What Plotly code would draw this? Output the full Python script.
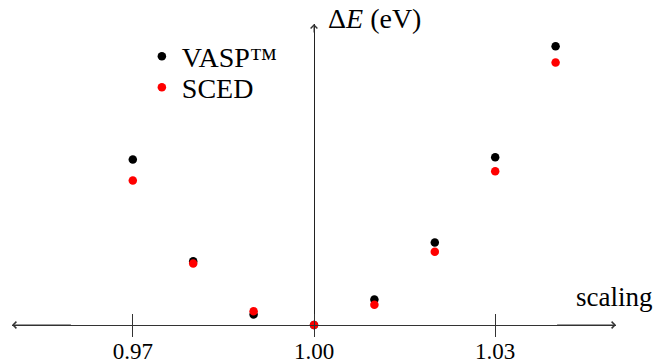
import plotly.graph_objects as go

scaling = [0.97, 0.98, 0.99, 1.00, 1.01, 1.02, 1.03, 1.04]
vasp = [1.655, 0.638, 0.105, 0.0, 0.255, 0.825, 1.678, 2.788]
sced = [1.445, 0.615, 0.138, 0.0, 0.202, 0.732, 1.538, 2.625]
tick_vals = [0.97, 1.00, 1.03]
tick_text = ["0.97", "1.00", "1.03"]

X_MIN, X_MAX = 0.95, 1.05
Y_MAX = 3.01
FONT = "Liberation Serif"

fig = go.Figure()
fig.add_trace(go.Scatter(x=scaling, y=vasp, mode="markers", name="VASP™", legend="legend",
                         marker=dict(color="black", size=8.5), cliponaxis=False))
fig.add_trace(go.Scatter(x=scaling, y=sced, mode="markers", name="SCED", legend="legend2",
                         marker=dict(color="red", size=8.5), cliponaxis=False))
# invisible trace for second x axis (outside ticks)
fig.add_trace(go.Scatter(x=[X_MIN], y=[0], xaxis="x2", mode="markers",
                         marker=dict(opacity=0), showlegend=False, hoverinfo="skip"))

leg = dict(xanchor="left", yanchor="top", bgcolor="rgba(0,0,0,0)",
           font=dict(size=28, family=FONT), itemsizing="trace")

# page body has an 8px default margin; figure size compensates for it
fig.update_layout(
    width=653, height=353,
    margin=dict(l=4, r=45, t=16, b=36, autoexpand=False),
    plot_bgcolor="white", paper_bgcolor="white",
    font=dict(family=FONT, color="black", size=23),
    showlegend=True,
    legend=dict(x=0.215, y=0.975, **leg),
    legend2=dict(x=0.215, y=0.872, **leg),
    xaxis=dict(range=[X_MIN, X_MAX], showgrid=False, zeroline=False, automargin=False,
               showline=True, linecolor="#333", linewidth=1,
               ticks="inside", ticklen=11, tickwidth=1, tickcolor="#333",
               tickvals=tick_vals, ticktext=tick_text, ticklabelstandoff=5,
               tickfont=dict(size=23, family=FONT)),
    xaxis2=dict(range=[X_MIN, X_MAX], overlaying="x", anchor="y", side="bottom",
                showgrid=False, zeroline=False, showline=False, automargin=False,
                ticks="outside", ticklen=11, tickwidth=1, tickcolor="#333",
                tickvals=tick_vals, showticklabels=False),
    yaxis=dict(range=[0, Y_MAX], showgrid=False, zeroline=False, automargin=False,
               showline=True, linecolor="#222", linewidth=1,
               anchor="free", position=0.5, showticklabels=False, ticks=""),
)

arrow = dict(showarrow=True, arrowhead=4, arrowsize=1.3, arrowwidth=1,
             arrowcolor="#333", text="", xref="x", yref="y", axref="x", ayref="y")
fig.add_annotation(x=X_MAX, y=0, ax=X_MAX - 0.01, ay=0, **arrow)
fig.add_annotation(x=X_MIN, y=0, ax=X_MIN + 0.01, ay=0, **arrow)
fig.add_annotation(x=1.0, y=Y_MAX, ax=1.0, ay=Y_MAX - 0.1, **arrow)

fig.add_annotation(x=1.0, y=1, xref="x", yref="paper", xanchor="left", yanchor="middle",
                   xshift=12, yshift=6, showarrow=False,
                   text="Δ<i>E</i> (eV)", font=dict(size=28, family=FONT))
fig.add_annotation(x=X_MAX, y=0, xref="x", yref="y", xanchor="left", yanchor="middle",
                   xshift=-42, yshift=28, showarrow=False,
                   text="scaling", font=dict(size=27, family=FONT))

fig.write_html("out.html")
